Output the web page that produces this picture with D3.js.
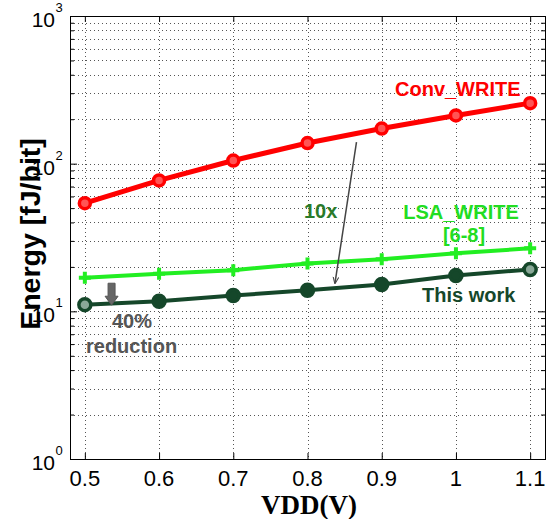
<!DOCTYPE html>
<html>
<head>
<meta charset="utf-8">
<script src="https://cdn.jsdelivr.net/npm/d3@7"></script>
<style>
  body { margin: 0; background: #fff; }
  svg { display: block; font-family: Arial, "Liberation Sans", sans-serif; }
</style>
</head>
<body>
<div id="chart"></div>
<script>
const vdd = [0.5, 0.6, 0.7, 0.8, 0.9, 1.0, 1.1];
const convWrite = [54, 77, 105, 138, 173, 212, 257];
const lsaWrite = [16.9, 18.0, 19.0, 21.1, 22.5, 24.7, 26.7];
const thisWork = [11.1, 11.7, 12.8, 13.9, 15.2, 17.5, 19.2];
const xTicks = [0.5, 0.6, 0.7, 0.8, 0.9, 1, 1.1];
const yDecades = [0, 1, 2, 3];

const W = 554, H = 519;
const m = { left: 70, right: 545, top: 16, bottom: 459 };

const svg = d3.select('#chart').append('svg')
  .attr('width', W).attr('height', H);

const x = d3.scaleLinear().domain([0.48, 1.12]).range([m.left, m.right]);
const y = d3.scaleLog().domain([1, 1000]).range([m.bottom, m.top]);

// minor log ticks
let yMinor = [];
[1, 10, 100].forEach(d => { for (let k = 2; k <= 9; k++) yMinor.push(d * k); });
const yMajor = yDecades.map(e => Math.pow(10, e));

// grid
const grid = svg.append('g').attr('stroke', '#555').attr('stroke-width', 1)
  .attr('stroke-dasharray', '1,3');
grid.selectAll('.gy').data(yMinor.concat(yMajor.slice(1, 3))).enter().append('line')
  .attr('x1', m.left).attr('x2', m.right)
  .attr('y1', d => Math.round(y(d)) + 0.5).attr('y2', d => Math.round(y(d)) + 0.5);
grid.selectAll('.gx').data(xTicks).enter().append('line')
  .attr('y1', m.top).attr('y2', m.bottom)
  .attr('x1', d => Math.round(x(d)) + 0.5).attr('x2', d => Math.round(x(d)) + 0.5);

// axes with inward ticks
svg.append('g').attr('transform', `translate(0,${m.bottom})`)
  .call(d3.axisTop(x).tickValues(xTicks).tickSize(6).tickFormat(''))
  .call(g => g.select('.domain').remove());
svg.append('g').attr('transform', `translate(0,${m.top})`)
  .call(d3.axisBottom(x).tickValues(xTicks).tickSize(6).tickFormat(''))
  .call(g => g.select('.domain').remove());
svg.append('g').attr('transform', `translate(${m.left},0)`)
  .call(d3.axisRight(y).tickValues(yMajor).tickSize(7).tickFormat(''))
  .call(g => g.select('.domain').remove());
svg.append('g').attr('transform', `translate(${m.left},0)`)
  .call(d3.axisRight(y).tickValues(yMinor).tickSize(4).tickFormat(''))
  .call(g => g.select('.domain').remove());
svg.append('g').attr('transform', `translate(${m.right},0)`)
  .call(d3.axisLeft(y).tickValues(yMajor).tickSize(7).tickFormat(''))
  .call(g => g.select('.domain').remove());
svg.append('g').attr('transform', `translate(${m.right},0)`)
  .call(d3.axisLeft(y).tickValues(yMinor).tickSize(4).tickFormat(''))
  .call(g => g.select('.domain').remove());

svg.append('rect')
  .attr('x', m.left + 0.5).attr('y', m.top + 0.5)
  .attr('width', m.right - m.left).attr('height', m.bottom - m.top)
  .attr('fill', 'none').attr('stroke', '#000').attr('stroke-width', 1);

// tick labels
svg.selectAll('.xl').data(xTicks).enter().append('text')
  .attr('x', d => x(d)).attr('y', 486)
  .attr('text-anchor', 'middle').attr('font-size', 22)
  .text(d => d);
const yl = svg.selectAll('.yl').data(yDecades).enter().append('g');
yl.append('text')
  .attr('x', 55).attr('y', d => y(Math.pow(10, d)) + 11)
  .attr('text-anchor', 'end').attr('font-size', 21).text('10');
yl.append('text')
  .attr('x', 55.5).attr('y', d => y(Math.pow(10, d)) - 4)
  .attr('font-size', 13).text(d => d);

// axis titles
svg.append('text')
  .attr('x', 309).attr('y', 514)
  .attr('text-anchor', 'middle')
  .attr('font-family', '"Liberation Serif", "Times New Roman", serif')
  .attr('font-weight', 'bold').attr('font-size', 27)
  .text('VDD(V)');
svg.append('text')
  .attr('transform', 'translate(40,234) rotate(-90)')
  .attr('text-anchor', 'middle')
  .attr('font-weight', 'bold').attr('font-size', 28.5)
  .text('Energy [fJ/bit]');

// series
const line = d3.line().x(d => x(d[0])).y(d => y(d[1]));
const series = [
  { vals: convWrite, color: '#ff0000', width: 5 },
  { vals: lsaWrite, color: '#22ee22', width: 4 },
  { vals: thisWork, color: '#15472a', width: 4 }
];
series.forEach(s => {
  svg.append('path')
    .datum(vdd.map((v, i) => [v, s.vals[i]]))
    .attr('fill', 'none').attr('stroke', s.color)
    .attr('stroke-width', s.width).attr('stroke-linejoin', 'round')
    .attr('d', line);
});

// markers
svg.selectAll('.mc').data(vdd).enter().append('circle')
  .attr('cx', d => x(d)).attr('cy', (d, i) => y(convWrite[i]))
  .attr('r', 5.5).attr('fill', '#ff5555')
  .attr('stroke', '#ff0000').attr('stroke-width', 3.5);
svg.selectAll('.ml').data(vdd).enter().append('path')
  .attr('transform', (d, i) => `translate(${x(d)},${y(lsaWrite[i])})`)
  .attr('d', 'M-6,0H6M0,-6V6')
  .attr('stroke', '#22ee22').attr('stroke-width', 4);
svg.selectAll('.mt').data(vdd).enter().append('circle')
  .attr('cx', d => x(d)).attr('cy', (d, i) => y(thisWork[i]))
  .attr('r', 6)
  .attr('fill', (d, i) => (i === 0 || i === vdd.length - 1) ? '#8aa898' : '#15472a')
  .attr('stroke', '#15472a').attr('stroke-width', 3.5);

// annotations
const ann = [
  { t: 'Conv_WRITE', x: 395, y: 96, c: '#ff0000', a: 'start' },
  { t: '10x', x: 304, y: 218, c: '#2a7a2a', a: 'start' },
  { t: 'LSA_WRITE', x: 461, y: 219, c: '#22dd22', a: 'middle' },
  { t: '[6-8]', x: 464, y: 242, c: '#22dd22', a: 'middle' },
  { t: 'This work', x: 422, y: 302, c: '#15472a', a: 'start' },
  { t: '40%', x: 112, y: 328, c: '#555', a: 'start' },
  { t: 'reduction', x: 86, y: 353, c: '#555', a: 'start' }
];
svg.selectAll('.ann').data(ann).enter().append('text')
  .attr('x', d => d.x).attr('y', d => d.y)
  .attr('text-anchor', d => d.a).attr('fill', d => d.c)
  .attr('font-weight', 'bold').attr('font-size', 20)
  .text(d => d.t);

// 10x arrow
svg.append('defs').append('marker')
  .attr('id', 'ah').attr('viewBox', '0 0 10 10')
  .attr('refX', 9).attr('refY', 5)
  .attr('markerWidth', 7).attr('markerHeight', 7)
  .attr('markerUnits', 'userSpaceOnUse')
  .attr('orient', 'auto')
  .append('path').attr('d', 'M0,1 L10,5 L0,9').attr('fill', 'none')
  .attr('stroke', '#444').attr('stroke-width', 1.5);
svg.append('line')
  .attr('x1', x(0.866)).attr('y1', y(140))
  .attr('x2', x(0.837)).attr('y2', y(15.5))
  .attr('stroke', '#444').attr('stroke-width', 1.5)
  .attr('marker-end', 'url(#ah)');

// block down arrow
const bx = x(0.536), by0 = y(15.5), by1 = y(11.0);
svg.append('path')
  .attr('d', `M${bx - 3.5},${by0} H${bx + 3.5} V${by1 - 9} H${bx + 6.5} L${bx},${by1} L${bx - 6.5},${by1 - 9} H${bx - 3.5} Z`)
  .attr('fill', '#666').attr('stroke', '#555').attr('stroke-width', 1);
</script>
</body>
</html>
